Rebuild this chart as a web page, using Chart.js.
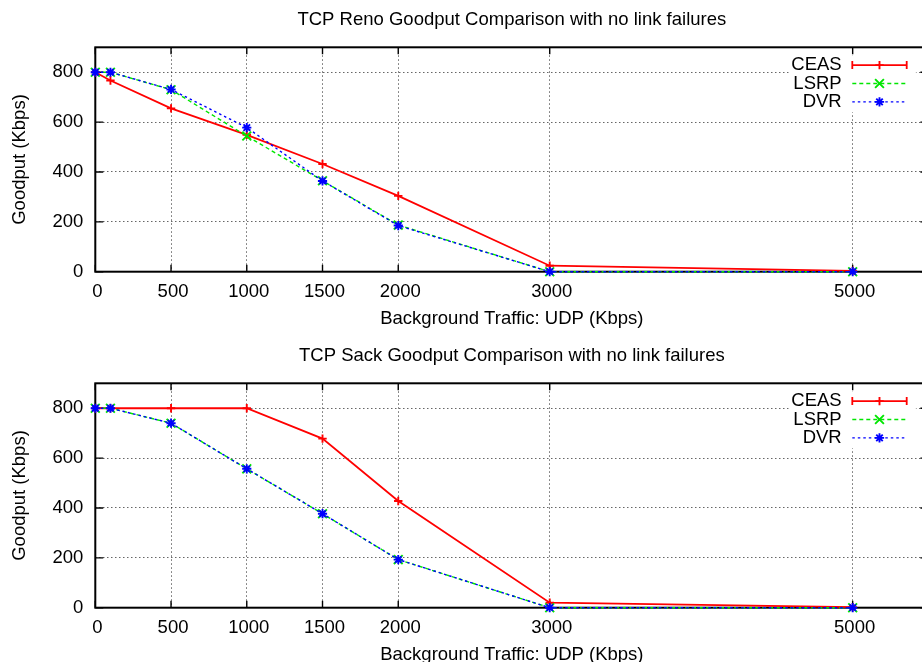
<!DOCTYPE html>
<html>
<head>
<meta charset="utf-8">
<title>TCP Goodput Comparison</title>
<script src="https://cdn.jsdelivr.net/npm/chart.js@4.4.1/dist/chart.umd.min.js"></script>
<style>
  html, body { margin: 0; padding: 0; background: #fff; }
  #page { position: relative; width: 922px; height: 662px; overflow: hidden; background: #fff; }
  .panel { position: absolute; left: 0; width: 940px; height: 331px; }
</style>
</head>
<body>
<div id="page">
  <div class="panel" style="top:0px"><canvas id="reno" width="940" height="331"></canvas></div>
  <div class="panel" style="top:336px"><canvas id="sack" width="940" height="331"></canvas></div>
</div>
<script>
// Background UDP load (Kbps) at which goodput was measured
const udpLoad = [0, 100, 500, 1000, 1500, 2000, 3000, 5000];

// Axis tick positions
const xTickValues = [0, 500, 1000, 1500, 2000, 3000, 5000];
const yTickValues = [0, 200, 400, 600, 800];

// Routing protocols
const seriesNames = ['CEAS', 'LSRP', 'DVR'];

// TCP Reno goodput (Kbps)
const renoCEAS = [800, 767, 655, 549, 432, 304, 24, 3];
const renoLSRP = [800, 800, 730, 544, 365, 187, 0, 0];
const renoDVR  = [800, 800, 731, 578, 364, 185, 0, 0];

// TCP Sack goodput (Kbps)
const sackCEAS = [800, 800, 800, 800, 678, 428, 20, 2];
const sackLSRP = [800, 800, 740, 557, 377, 193, 0, 0];
const sackDVR  = [800, 800, 740, 557, 377, 193, 0, 0];

const FONT = '"Liberation Sans", Arial, Helvetica, sans-serif';
const FONT_SIZE = 18.5;

Chart.defaults.font.family = FONT;
Chart.defaults.font.size = FONT_SIZE;
Chart.defaults.color = '#000';

const seriesStyle = [
  { color: '#ff0000', dash: [],        width: 1.8, point: 'cross',    radius: 4.2, caps: true  },
  { color: '#00e600', dash: [4, 3],    width: 1.4, point: 'crossRot', radius: 6.2, caps: false },
  { color: '#0000ff', dash: [2.5, 3],  width: 1.4, point: 'star',     radius: 4.6, caps: false }
];

function makeDataset(i, values) {
  const s = seriesStyle[i];
  return {
    label: seriesNames[i],
    data: udpLoad.map((x, k) => ({ x: x, y: values[k] })),
    borderColor: s.color,
    backgroundColor: s.color,
    borderWidth: s.width,
    borderDash: s.dash,
    pointStyle: s.point,
    pointRadius: s.radius,
    pointBorderWidth: 1.9,
    pointBorderColor: s.color,
    tension: 0,
    clip: false,
    order: 2 - i,
    legendCaps: s.caps
  };
}

// Border frame with inward tick marks, drawn under the data
const framePlugin = {
  id: 'frame',
  beforeDatasetsDraw(chart) {
    const { ctx, chartArea: a, scales } = chart;
    const xs = scales.x, ys = scales.y;
    ctx.save();
    ctx.strokeStyle = '#000';
    ctx.lineWidth = 1.4;
    ctx.beginPath();
    for (const v of xTickValues) {
      const px = xs.getPixelForValue(v);
      ctx.moveTo(px, a.bottom); ctx.lineTo(px, a.bottom - 7);
      ctx.moveTo(px, a.top);    ctx.lineTo(px, a.top + 7);
    }
    for (const v of yTickValues) {
      const py = ys.getPixelForValue(v);
      ctx.moveTo(a.left, py);  ctx.lineTo(a.left + 8, py);
      ctx.moveTo(a.right, py); ctx.lineTo(a.right - 8, py);
    }
    ctx.stroke();
    ctx.lineWidth = 2;
    ctx.strokeRect(a.left, a.top, a.right - a.left, a.bottom - a.top);
    ctx.restore();
  }
};

// Key in the upper right corner: label text, then a line sample with its marker
const keyPlugin = {
  id: 'key',
  afterDatasetsDraw(chart) {
    const { ctx, chartArea: a } = chart;
    const textRight = a.right - 86.7;
    const sampleL = a.right - 76.1;
    const sampleR = a.right - 21.7;
    const sampleMid = (sampleL + sampleR) / 2;
    ctx.save();
    ctx.fillStyle = '#fff';
    ctx.fillRect(a.right - 139.5, a.top + 8, 127, 57);
    ctx.font = FONT_SIZE + 'px ' + FONT;
    ctx.textAlign = 'right';
    ctx.textBaseline = 'middle';
    chart.data.datasets.forEach((ds, i) => {
      const cy = a.top + 17.8 + i * 18.4;
      ctx.fillStyle = '#000';
      ctx.fillText(ds.label, textRight, cy);
      ctx.strokeStyle = ds.borderColor;
      ctx.lineWidth = ds.borderWidth;
      ctx.setLineDash(ds.borderDash);
      ctx.beginPath();
      ctx.moveTo(sampleL, cy); ctx.lineTo(sampleR, cy);
      ctx.stroke();
      ctx.setLineDash([]);
      if (ds.legendCaps) {
        ctx.beginPath();
        ctx.moveTo(sampleL, cy - 4); ctx.lineTo(sampleL, cy + 4);
        ctx.moveTo(sampleR, cy - 4); ctx.lineTo(sampleR, cy + 4);
        ctx.stroke();
      }
      ctx.fillStyle = ds.borderColor;
      ctx.lineWidth = ds.pointBorderWidth;
      Chart.helpers.drawPoint(ctx, {
        pointStyle: ds.pointStyle, radius: ds.pointRadius,
        borderWidth: ds.pointBorderWidth, rotation: 0
      }, sampleMid, cy);
    });
    ctx.restore();
  }
};

function makeChart(canvasId, titleText, ceas, lsrp, dvr) {
  return new Chart(document.getElementById(canvasId), {
    type: 'line',
    data: {
      datasets: [makeDataset(0, ceas), makeDataset(1, lsrp), makeDataset(2, dvr)]
    },
    options: {
      responsive: false,
      animation: false,
      devicePixelRatio: 1,
      events: [],
      layout: { padding: { left: 0, right: 11.6, top: 0, bottom: 0 } },
      plugins: {
        legend: { display: false },
        tooltip: { enabled: false },
        title: {
          display: true,
          text: titleText,
          fullSize: false,
          color: '#000',
          font: { size: FONT_SIZE, weight: 'normal', family: FONT },
          padding: { top: 8.5, bottom: 16.6 }
        }
      },
      scales: {
        x: {
          type: 'linear',
          min: 0,
          max: 5500,
          afterBuildTicks: s => { s.ticks = xTickValues.map(v => ({ value: v })); },
          afterFit: s => { s.height = 59.3; },
          ticks: { padding: 9.1, labelOffset: 2, autoSkip: false, maxRotation: 0, callback: v => String(v), color: '#000' },
          grid: { color: 'rgba(0,0,0,0.6)', lineWidth: 1, drawTicks: false },
          border: { display: false, dash: [1.5, 2.5] },
          title: {
            display: true,
            text: 'Background Traffic: UDP (Kbps)',
            color: '#000',
            font: { size: FONT_SIZE, family: FONT },
            padding: { top: 0, bottom: 1.3 }
          }
        },
        y: {
          min: 0,
          max: 900,
          afterBuildTicks: s => { s.ticks = yTickValues.map(v => ({ value: v })); },
          afterFit: s => { s.width = 95.3; },
          ticks: { padding: 12, callback: v => String(v), color: '#000' },
          grid: { color: 'rgba(0,0,0,0.6)', lineWidth: 1, drawTicks: false },
          border: { display: false, dash: [1.5, 2.5] },
          title: {
            display: true,
            text: 'Goodput (Kbps)',
            color: '#000',
            font: { size: FONT_SIZE, family: FONT },
            padding: { top: 8.5, bottom: 0 }
          }
        }
      }
    },
    plugins: [framePlugin, keyPlugin]
  });
}

makeChart('reno', 'TCP Reno Goodput Comparison with no link failures', renoCEAS, renoLSRP, renoDVR);
makeChart('sack', 'TCP Sack Goodput Comparison with no link failures', sackCEAS, sackLSRP, sackDVR);
</script>
</body>
</html>
